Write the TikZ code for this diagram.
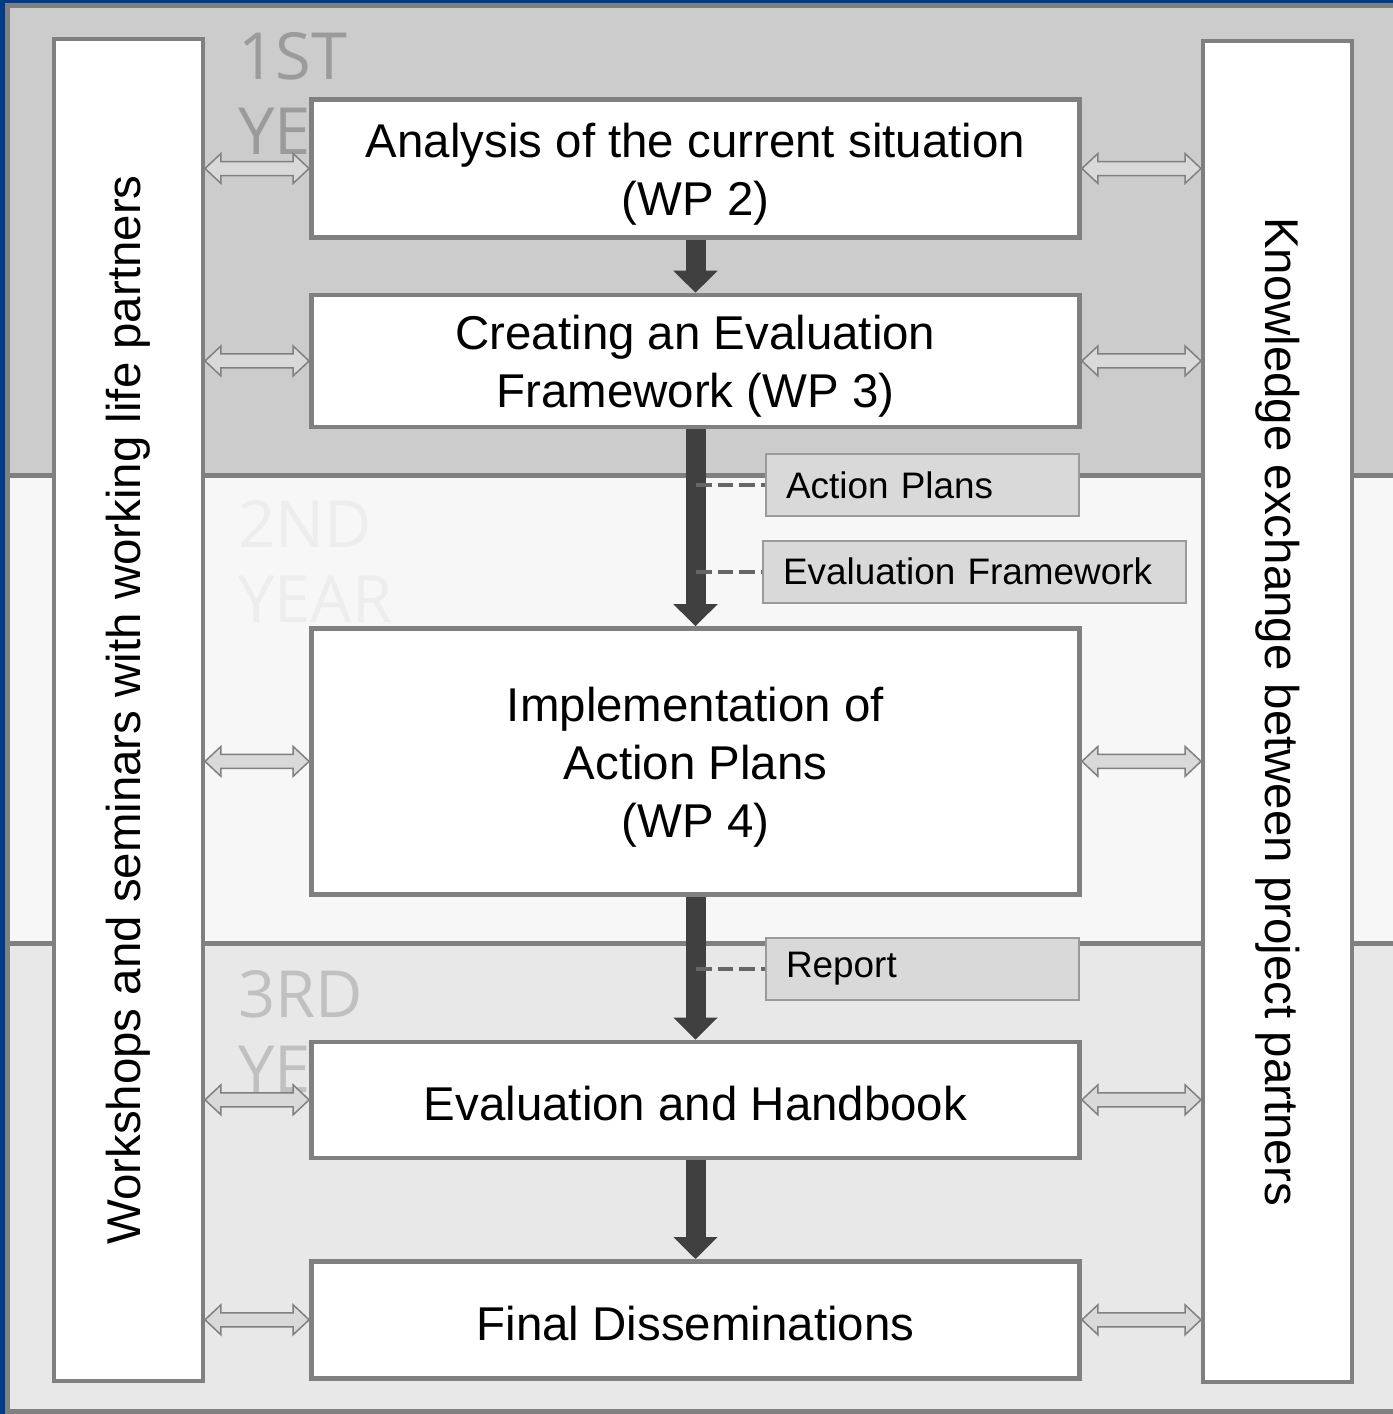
\documentclass[tikz,border=0pt]{standalone}
\usepackage{fontspec}
\setmainfont{Liberation Sans}
\newfontfamily\yearfont{Open Sans}
\usetikzlibrary{arrows.meta,calc,positioning}

\definecolor{frameblue}{HTML}{003B87}
\definecolor{bandline}{HTML}{808080}
\definecolor{yearone}{HTML}{CCCCCC}
\definecolor{yeartwo}{HTML}{F7F7F7}
\definecolor{yearthree}{HTML}{E8E8E8}
\definecolor{yearonetext}{HTML}{9B9B9B}
\definecolor{yeartwotext}{HTML}{EDEDED}
\definecolor{yearthreetext}{HTML}{C0C0C0}
\definecolor{boxgray}{HTML}{808080}
\definecolor{docfill}{HTML}{D9D9D9}
\definecolor{docline}{HTML}{9A9A9A}
\definecolor{flowgray}{HTML}{404040}
\definecolor{dashgray}{HTML}{666666}
\definecolor{arrowfill}{HTML}{D9D9D9}
\definecolor{arrowline}{HTML}{808080}

% taller first line, so the text sits a little lower in its box
\newcommand{\lift}{\rule{0pt}{26pt}}

% hollow two-way arrow between two points on one line
\newcommand{\twoway}[2]{%
  \coordinate (tl) at (#1);
  \coordinate (tr) at (#2);
  \draw[twoarrow] (tl) -- ++(16,-15) -- ++(0,8) -- ($(tr)+(-16,-7)$) -- ++(0,-8) -- (tr)
    -- ++(-16,15) -- ++(0,-8) -- ($(tl)+(16,7)$) -- ++(0,8) -- cycle;}

\begin{document}
\begin{tikzpicture}[x=0.02cm,y=-0.02cm]
\tikzstyle{wpbox}=[rectangle, draw=boxgray, line width=0.09cm, fill=white, minimum width=15.37cm, align=center, font=\fontsize{27}{33}\selectfont]
\tikzstyle{side}=[rectangle, draw=boxgray, line width=0.08cm, fill=white, minimum width=26.84cm, minimum height=2.98cm, font=\fontsize{27}{33}\selectfont]
\tikzstyle{docbox}=[rectangle, draw=docline, line width=0.04cm, fill=docfill, minimum height=1.24cm, inner xsep=0.4cm, align=left, font=\fontsize{21}{25}\selectfont]
\tikzstyle{flow}=[-{Triangle[width=0.86cm,length=0.44cm]}, line width=0.4cm, draw=flowgray]
\tikzstyle{dashlink}=[dash pattern=on 0.32cm off 0.12cm, line width=0.08cm, draw=dashgray]
\tikzstyle{twoarrow}=[draw=arrowline, line width=0.03cm, fill=arrowfill, line join=miter]
\tikzstyle{yearlabel}=[anchor=north west, inner sep=0pt, align=left, font=\yearfont\fontsize{37}{42.5}\selectfont]

  \useasboundingbox (0,0) rectangle (1393,1414);
  % frame and the three year bands
  \fill[frameblue] (0,0) rectangle (1393,1414);
  \filldraw[fill=yearone, draw=bandline, line width=0.1cm] (7.5,5.5) rectangle (1400,475);
  \filldraw[fill=yeartwo, draw=bandline, line width=0.1cm] (7.5,475) rectangle (1400,943);
  \filldraw[fill=yearthree, draw=bandline, line width=0.1cm] (7.5,943) rectangle (1400,1411.5);

  \node[yearlabel, text=yearonetext] (year1) at (238,32) {1ST\\YEAR};
  \node[yearlabel, text=yeartwotext] (year2) at (238,500) {2ND\\YEAR};
  \node[yearlabel, text=yearthreetext] (year3) at (238,970) {3RD\\YEAR};

  \node[side, rotate=90] (workshops) at (128.5,710) {Workshops and seminars with working life partners};
  \node[side, rotate=-90] (knowledge) at (1277.5,711.5) {Knowledge exchange between project partners};

  \node[wpbox, minimum height=2.76cm] (wp2) at (695.5,168.5) {\lift Analysis of the current situation\\(WP 2)};
  \node[wpbox, minimum height=2.64cm] (wp3) [below=1.06cm of wp2] {\lift Creating an Evaluation\\Framework (WP 3)};
  \node[wpbox, minimum height=5.32cm] (wp4) [below=3.94cm of wp3] {\lift Implementation of\\Action Plans\\(WP 4)};
  \node[wpbox, minimum height=2.32cm] (handbook) [below=2.86cm of wp4] {\rule{0pt}{24pt}Evaluation and Handbook};
  \node[wpbox, minimum height=2.34cm] (dissem) [below=1.98cm of handbook] {\rule{0pt}{24pt}Final Disseminations};

  \foreach \n in {wp2,wp3,wp4,handbook,dissem}{
    \twoway{workshops.south |- \n.west}{\n.west}
    \twoway{\n.east}{knowledge.south |- \n.east}
  }

  \draw[flow] (wp2) -- (wp3);
  \draw[flow] (wp3) -- (wp4);
  \draw[flow] (wp4) -- (handbook);
  \draw[flow] (handbook) -- (dissem);

  \node[docbox, text width=5.46cm] (plans) at (922.5,485) {Action Plans};
  \node[docbox, text width=7.66cm] (evalfw) at (974.5,571.5) {Evaluation Framework};
  \node[docbox, text width=5.46cm] (report) at (922.5,969) {Report};
  \draw[dashlink] (wp3.south |- plans.west) -- (plans.west);
  \draw[dashlink] (wp3.south |- evalfw.west) -- (evalfw.west);
  \draw[dashlink] (wp4.south |- report.west) -- (report.west);
\end{tikzpicture}
\end{document}
